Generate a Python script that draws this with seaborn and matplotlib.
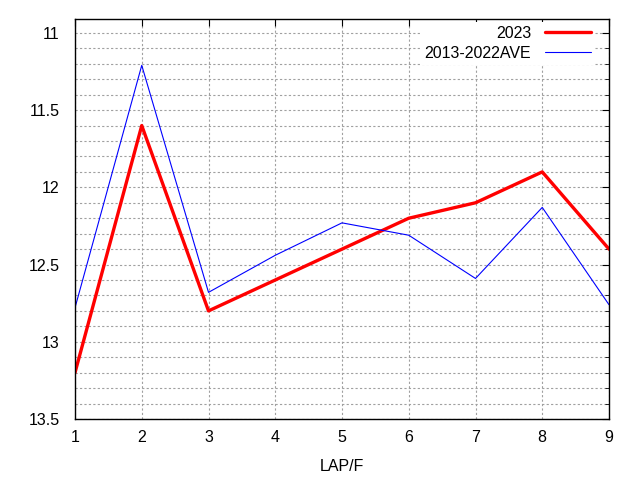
import numpy as np
import pandas as pd
import seaborn as sns
import matplotlib
import matplotlib.pyplot as plt
from matplotlib.ticker import MultipleLocator
matplotlib.use('Agg')

laps = [1, 2, 3, 4, 5, 6, 7, 8, 9]
y2023 = [13.2, 11.6, 12.8, 12.6, 12.4, 12.2, 12.1, 11.9, 12.4]
yave = [12.78, 11.21, 12.68, 12.44, 12.23, 12.31, 12.59, 12.13, 12.76]

df = pd.DataFrame({'LAP/F': laps * 2,
                   'time': y2023 + yave,
                   'series': ['2023'] * 9 + ['2013-2022AVE'] * 9})

sns.set_style('white')
plt.rcParams['font.family'] = ['Liberation Sans', 'DejaVu Sans']
plt.rcParams['text.color'] = 'black'
plt.rcParams['axes.labelcolor'] = 'black'
plt.rcParams['xtick.color'] = 'black'
plt.rcParams['ytick.color'] = 'black'

fig = plt.figure(figsize=(6.4, 4.8), dpi=100)
# plot box: x 75..609 px, y 19..419 px
ax = fig.add_axes([75 / 640, 1 - 419 / 480, 534 / 640, 400 / 480])

sns.lineplot(data=df, x='LAP/F', y='time', hue='series', size='series',
             palette={'2023': '#ff0000', '2013-2022AVE': '#0000ff'},
             sizes={'2023': 2.4, '2013-2022AVE': 0.8}, ax=ax)

ax.set_xlim(1, 9)
ax.set_ylim(13.5, 10.91)
ax.xaxis.set_major_locator(MultipleLocator(1))
ax.yaxis.set_minor_locator(MultipleLocator(0.1))
ax.set_yticks([11, 11.5, 12, 12.5, 13, 13.5])
ax.set_yticklabels(['11', '11.5', '12', '12.5', '13', '13.5'])
ax.grid(True, which='both', axis='y', color='#a0a0a0', linestyle=(0, (2, 2)), linewidth=0.8)
ax.grid(True, which='major', axis='x', color='#a0a0a0', linestyle=(0, (2, 2)), linewidth=0.8)
ax.set_axisbelow(True)
ax.tick_params(which='both', direction='in', top=True, right=True, length=5,
               labelsize=11.5, colors='black')
ax.tick_params(which='minor', length=3)
ax.tick_params(axis='y', pad=11)
ax.tick_params(axis='x', pad=8)
for s in ax.spines.values():
    s.set_color('black')
    s.set_linewidth(1)
ax.set_ylabel('')
ax.set_xlabel('LAP/F', fontsize=11.5, labelpad=10, color='black')

leg = ax.legend(loc='upper right', bbox_to_anchor=(595 / 640, 1 - 22 / 480),
                bbox_transform=fig.transFigure, frameon=True, fancybox=False,
                facecolor='white', edgecolor='none', framealpha=1,
                markerfirst=False, fontsize=11.5, handlelength=2.9, handletextpad=0.85,
                borderaxespad=0, borderpad=0.25, labelspacing=0.29)
for t in leg.get_texts():
    t.set_ha('right')
    t.set_color('black')

fig.savefig('out.png')
